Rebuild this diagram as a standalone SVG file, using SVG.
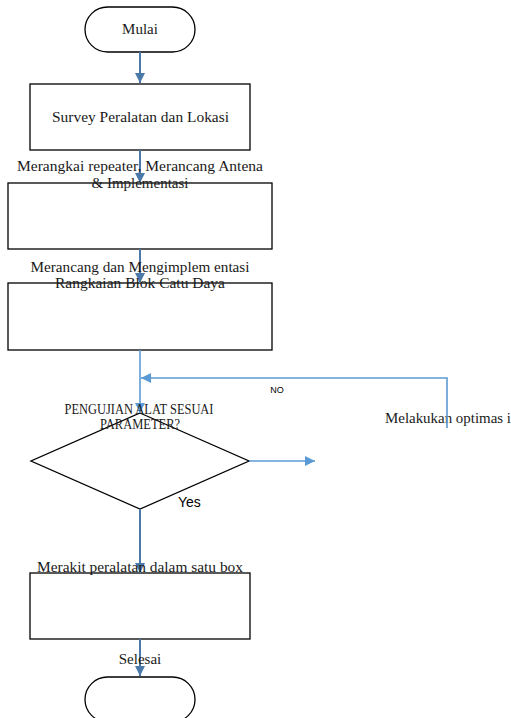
<svg xmlns="http://www.w3.org/2000/svg" width="511" height="718" viewBox="0 0 511 718">
<style>
.box{fill:#fff;stroke:#000;stroke-width:1.3}
.t{font-family:"Liberation Serif","Times New Roman",serif;font-size:15px;fill:#1a1a1a}
.s{font-family:"Liberation Sans",Arial,sans-serif;fill:#000}
.dk{stroke:#4a78a8;stroke-width:2;fill:none}
.lt{stroke:#5b9bd5;stroke-width:1.6;fill:none}
</style>
<defs>
<marker id="ad" viewBox="0 0 10 10" refX="10" refY="5" markerWidth="5" markerHeight="5" orient="auto" markerUnits="strokeWidth"><path d="M0,0L10,5L0,10z" fill="#4a78a8"/></marker>
<marker id="al" viewBox="0 0 10 10" refX="10" refY="5" markerWidth="6.5" markerHeight="6.5" orient="auto" markerUnits="strokeWidth"><path d="M0,0L10,5L0,10z" fill="#5b9bd5"/></marker>
</defs>
<g id="start"><rect class="box" x="85" y="7" width="110" height="45" rx="22.5"/><text class="t" x="140" y="34" text-anchor="middle">Mulai</text></g>
<g id="survey"><rect class="box" x="30" y="84" width="220" height="66"/><text class="t" x="140.5" y="122" text-anchor="middle" textLength="177" lengthAdjust="spacingAndGlyphs">Survey Peralatan dan Lokasi</text></g>
<g id="rangkai"><rect class="box" x="8" y="183" width="264" height="66"/></g>
<g id="catu"><rect class="box" x="8" y="283" width="264" height="67"/></g>
<g id="uji"><polygon class="box" points="140,413 249,461 140,509 31,461"/></g>
<g id="optimasi"><text class="t" x="385" y="423" textLength="126" lengthAdjust="spacingAndGlyphs">Melakukan optimas i</text></g>
<g id="rakit"><rect class="box" x="30" y="573" width="220" height="66"/></g>
<g id="end"><rect class="box" x="85" y="677" width="110" height="45" rx="22.5"/></g>
<g id="connectors">
<path class="dk" d="M140,52V83" marker-end="url(#ad)"/>
<path class="dk" d="M140,150V183" marker-end="url(#ad)"/>
<path class="dk" d="M140,249V283" marker-end="url(#ad)"/>
<path class="lt" d="M140,350V413" marker-end="url(#al)"/>
<path class="lt" d="M447,428V378H141" marker-end="url(#al)"/>
<path class="lt" d="M249,461H315" marker-end="url(#al)"/>
<path class="dk" d="M140,509V573" marker-end="url(#ad)"/>
<path class="dk" d="M140,639V676" marker-end="url(#ad)"/>
</g>
<g id="labels">
<text class="t" x="140" y="171" text-anchor="middle" textLength="246" lengthAdjust="spacingAndGlyphs">Merangkai repeater, Merancang Antena</text>
<text class="t" x="140" y="188" text-anchor="middle">&amp; Implementasi</text>
<text class="t" x="140" y="272" text-anchor="middle" textLength="219" lengthAdjust="spacingAndGlyphs">Merancang dan Mengimplem entasi</text>
<text class="t" x="140" y="288" text-anchor="middle" textLength="170" lengthAdjust="spacingAndGlyphs">Rangkaian Blok Catu Daya</text>
<text class="s" x="277" y="393" text-anchor="middle" font-size="9">NO</text>
<text class="t" x="139" y="414" text-anchor="middle" font-size="10" textLength="149" lengthAdjust="spacingAndGlyphs">PENGUJIAN ALAT SESUAI</text>
<text class="t" x="140" y="429" text-anchor="middle" font-size="10" textLength="80" lengthAdjust="spacingAndGlyphs">PARAMETER?</text>
<text class="s" x="178" y="507" font-size="14">Yes</text>
<text class="t" x="140" y="572" text-anchor="middle" textLength="206" lengthAdjust="spacingAndGlyphs">Merakit peralatan dalam satu box</text>
<text class="t" x="140" y="664" text-anchor="middle">Selesai</text>
</g>
</svg>
